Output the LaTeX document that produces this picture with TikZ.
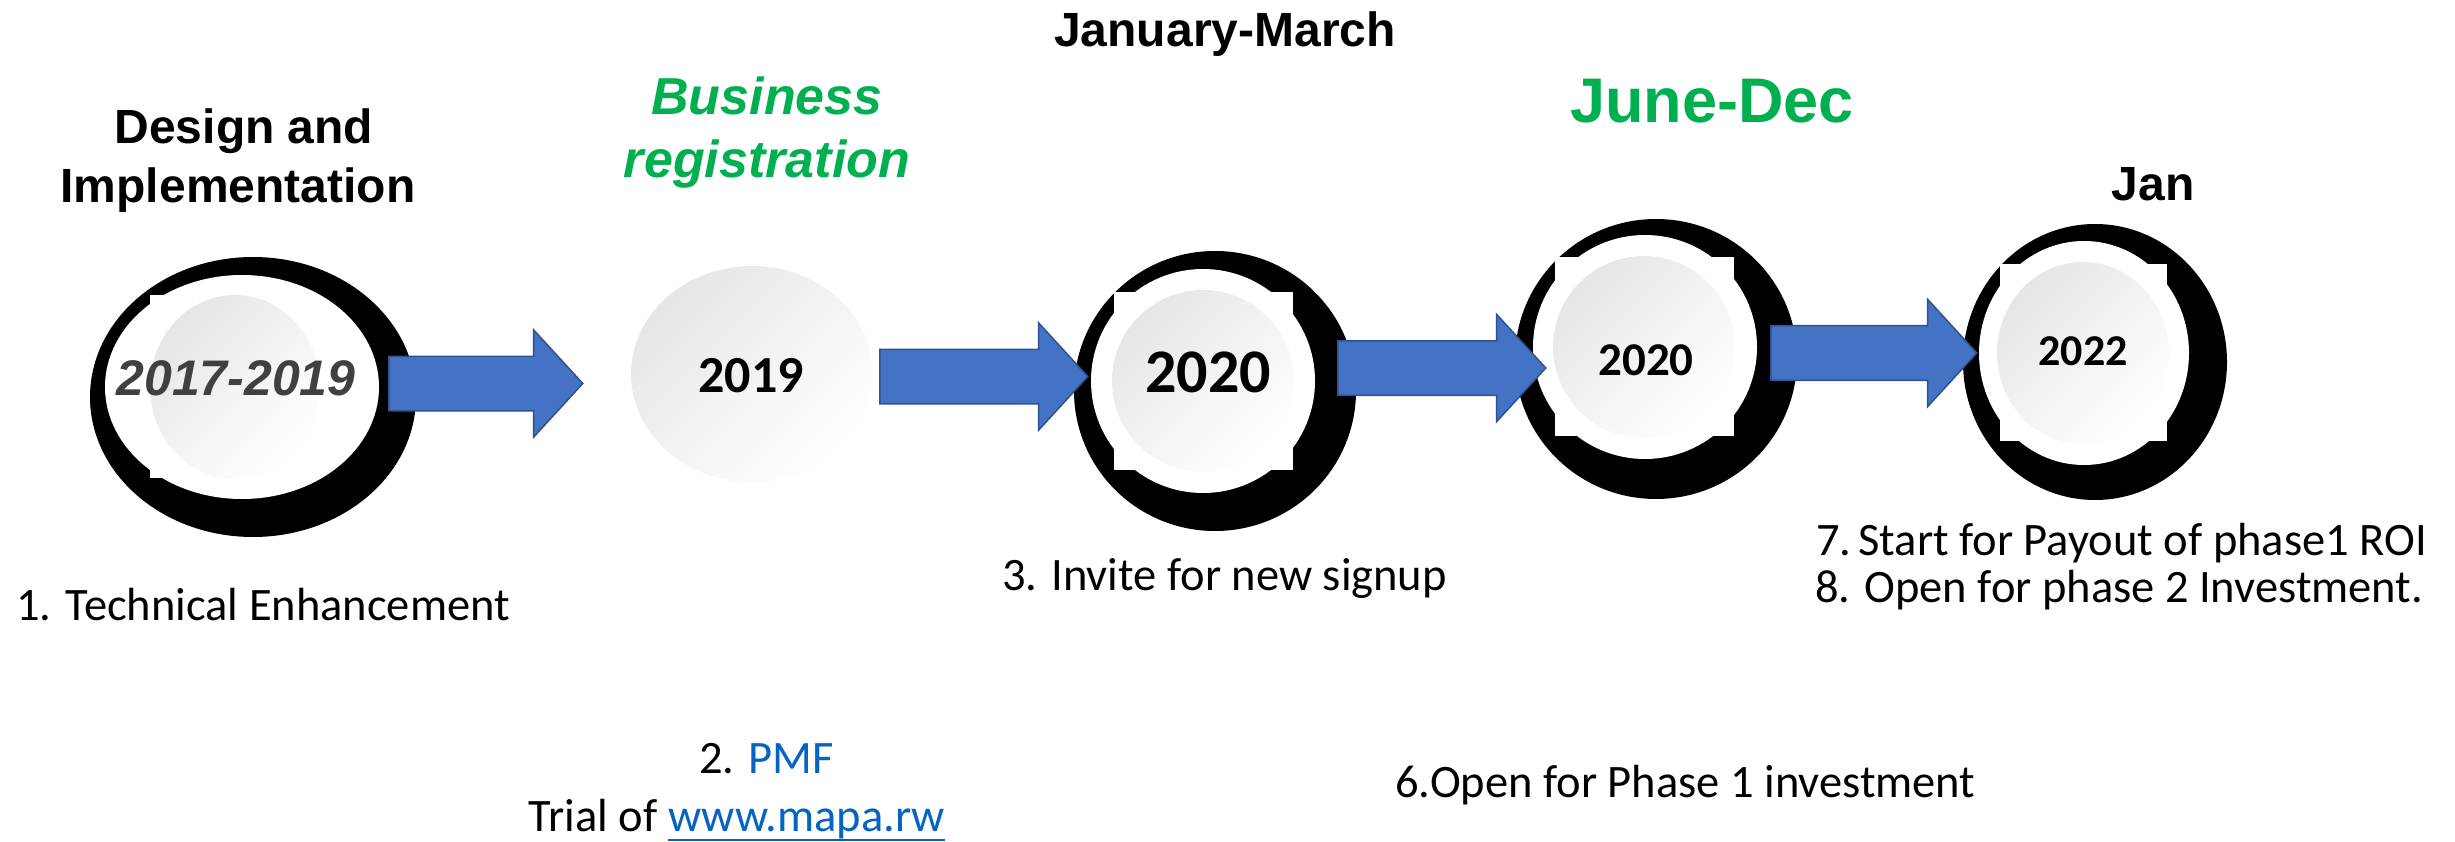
\documentclass[tikz,border=0pt]{standalone}
\usepackage{fontspec}
\setmainfont{Carlito}
\newfontfamily\arial{Liberation Sans}
\usetikzlibrary{shapes.arrows}
\definecolor{arrowblue}{HTML}{4472C4}
\definecolor{arrowedge}{HTML}{2F528F}
\definecolor{titlegreen}{HTML}{00B050}
\definecolor{linkblue}{HTML}{0563C1}
\definecolor{yeargray}{HTML}{404040}
\definecolor{discgray}{HTML}{E6E6E6}
\begin{document}
\begin{tikzpicture}[x=1pt,y=-1pt,
  txt/.style={inner sep=0pt, anchor=base},
  body/.style={txt, font=\fontsize{46.5}{56}\selectfont},
  head/.style={txt, font=\arial\bfseries\fontsize{48}{58}\selectfont},
  greenhead/.style={txt, text=titlegreen},
  yearbold/.style={txt, font=\bfseries\fontsize{#1}{#1}\selectfont},
  shadowblob/.style={fill=black},
  whitedisc/.style={fill=white},
  shadedisc/.style={top color=discgray, bottom color=white, shading angle=45},
  blockarrow/.style={single arrow, fill=arrowblue, draw=arrowedge, line width=1.5pt,
    inner xsep=0pt, inner ysep=26.5pt, single arrow head extend=26.5pt,
    single arrow tip angle=95, anchor=west, minimum height=#1},
]
\fill[white] (0,0) rectangle (2455,842);
\useasboundingbox (0,0) rectangle (2455,842);

% ---- disc 1
\fill[shadowblob] (253,397) ellipse [x radius=163, y radius=140];
\fill[whitedisc] (150,295) rectangle (320,478);
\fill[whitedisc] (242,387) ellipse [x radius=137, y radius=112];
\coordinate (c1) at (235,387);
\shade[shadedisc] (c1) ellipse [x radius=85, y radius=92];

% ---- disc 2
\coordinate (c2) at (752,374);
\shade[shadedisc] (c2) ellipse [x radius=121, y radius=108];

% ---- disc 3
\fill[shadowblob] (1215,391) ellipse [x radius=141, y radius=140];
\fill[whitedisc] (1114,292) rectangle (1293,470);
\fill[whitedisc] (1203,381) circle [radius=112];
\coordinate (c3) at (1203,381);
\shade[shadedisc] (c3) circle [radius=91];

% ---- disc 4
\fill[shadowblob] (1656,359) ellipse [x radius=141, y radius=140];
\fill[whitedisc] (1555,257) rectangle (1734,436);
\fill[whitedisc] (1645,347) circle [radius=112];
\coordinate (c4) at (1644,347);
\shade[shadedisc] (c4) circle [radius=91];

% ---- disc 5
\fill[shadowblob] (2095,362) ellipse [x radius=132, y radius=138];
\fill[whitedisc] (2000,264) rectangle (2167,441);
\fill[whitedisc] (2084,353) ellipse [x radius=105, y radius=112];
\coordinate (c5) at (2083,353);
\shade[shadedisc] (c5) ellipse [x radius=86, y radius=91];

% ---- arrows
\node[blockarrow=194pt] (a1) at (388,383.5) {};
\node[blockarrow=208pt] (a2) at (879,376.5) {};
\node[blockarrow=208pt] (a3) at (1337,368) {};
\node[blockarrow=206pt] (a4) at (1770,353) {};

% ---- years
\node[txt, font=\arial\bfseries\itshape\fontsize{50}{50}\selectfont, text=yeargray] (y1) at (236,395) {2017-2019};
\node[yearbold=52] (y2) at (751,392) {2019};
\node[yearbold=62] (y3) at (1208,392) {2020};
\node[yearbold=47] (y4) at (1646,375) {2020};
\node[yearbold=44] (y5) at (2083,365) {2022};

% ---- headings
\node[head] (h1) at (244,144) {Design and};
\node[head] (h2) at (238,203) {Implementation};
\node[greenhead, font=\arial\bfseries\itshape\fontsize{52}{62}\selectfont] (b1) at (767,115) {Business};
\node[greenhead, font=\arial\bfseries\itshape\fontsize{52}{62}\selectfont] (b2) at (767,178) {registration};
\node[head] (jm) at (1225,47) {January-March};
\node[greenhead, font=\arial\bfseries\fontsize{63}{70}\selectfont] (jd) at (1712,123) {June-Dec};
\node[head] (jan) at (2153,201) {Jan};

% ---- body notes
\node[body, anchor=base west] (n1) at (16,620) {1. Technical Enhancement};
\node[body, anchor=base west] (n2) at (699,773) {2. \textcolor{linkblue}{PMF}};
\node[body, anchor=base east, text=linkblue] (url) at (945,831) {www.mapa.rw};
\node[body, anchor=base east] (trial) at ([xshift=-10.5pt]url.base west) {Trial of};
\draw[linkblue, line width=2.5pt] ([yshift=-9pt]url.base west) -- ([yshift=-9pt]url.base east);
\node[body, anchor=base west] (n3) at (1002,590) {3. Invite for new signup};
\node[body, anchor=base west] (n6) at (1395,797) {6.Open for Phase 1 investment};
\node[body, anchor=base west] (n7) at (1816,555) {7.\hspace{7pt}Start for Payout of phase1 ROI};
\node[body, anchor=base west] (n8) at (1815,602) {8. Open for phase 2 Investment.};
\end{tikzpicture}
\end{document}
